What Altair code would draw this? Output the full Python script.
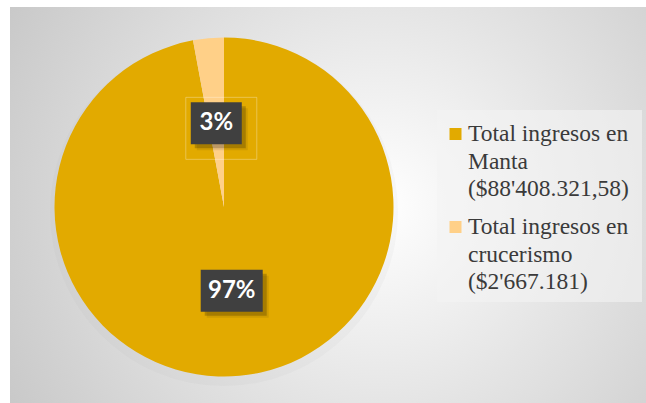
import altair as alt
import pandas as pd
import numpy as np

# ---- data ----
categories = ["Total ingresos en Manta ($88'408.321,58)",
              "Total ingresos en crucerismo ($2'667.181)"]
legend_lines = [["Total ingresos en", "Manta", "($88'408.321,58)"],
                ["Total ingresos en", "crucerismo", "($2'667.181)"]]
values = [88408321.58, 2667181.0]
colors = ["#E2AA00", "#FFD088"]

# ---- layout constants ----
CX, CY, R = 224, 207, 169.5
LABEL_R = 84

df = pd.DataFrame({"cat": categories, "value": values, "order": [0, 1]})
df["pct"] = df["value"] / df["value"].sum()
df["label"] = (df["pct"] * 100).round().astype(int).astype(str) + "%"
mid = (df["pct"].cumsum() - df["pct"] / 2) * 2 * np.pi
df["lx"] = CX + LABEL_R * np.sin(mid)
df["ly"] = CY - LABEL_R * np.cos(mid)
bw = 29 + 11 * df["label"].str.len()
df["bx1"] = df["lx"] - bw / 2
df["bx2"] = df["lx"] + bw / 2
df["by1"] = df["ly"] - 21
df["by2"] = df["ly"] + 21

leg = pd.DataFrame({"cat": categories, "idx": [0, 1]})
leg["sy"] = 134 + 93 * leg["idx"]

rows = []
for i, lines in enumerate(legend_lines):
    for j, t in enumerate(lines):
        rows.append({"t": t, "ty": 141 + 93 * i + 27.5 * j})
leg_lines = pd.DataFrame(rows)

color_scale = alt.Scale(domain=categories, range=colors)
one = pd.DataFrame({"a": [0]})

bg = alt.Chart(one).mark_rect(
    color=alt.Gradient(
        gradient="radial",
        stops=[alt.GradientStop(color="#ffffff", offset=0),
               alt.GradientStop(color="#e4e4e4", offset=0.45),
               alt.GradientStop(color="#c4c4c4", offset=1)],
        x1=0.58, y1=0.5, r1=0, x2=0.58, y2=0.5, r2=0.72),
).encode(x=alt.value(10), x2=alt.value(646), y=alt.value(7), y2=alt.value(403))

shadow = alt.Chart(one).mark_point(
    shape="circle", filled=True, color="#9a9a9a", opacity=0.06, size=(2 * 174) ** 2
).encode(x=alt.value(CX), y=alt.value(CY + 5))

pie = alt.Chart(df).mark_arc(radius=R, stroke=None).encode(
    theta=alt.Theta("value:Q", stack=True),
    order=alt.Order("order:Q"),
    color=alt.Color("cat:N", scale=color_scale, legend=None),
    x=alt.value(CX), y=alt.value(CY),
)

outline = alt.Chart(df).transform_filter("datum.order == 1").transform_calculate(
    ox1="datum.bx1 - 5", ox2="datum.bx2 + 15", oy1="datum.by1 - 5", oy2="datum.by2 + 15"
).mark_rect(fill=None, stroke="#ffffff", strokeOpacity=0.3, strokeWidth=1).encode(
    x=alt.X("ox1:Q", scale=None), x2="ox2:Q",
    y=alt.Y("oy1:Q", scale=None), y2="oy2:Q",
)

box_sh1 = alt.Chart(df).transform_calculate(
    sx1="datum.bx1 + 4", sx2="datum.bx2 + 4", sy1="datum.by1 + 4", sy2="datum.by2 + 4"
).mark_rect(color="#000000", opacity=0.2).encode(
    x=alt.X("sx1:Q", scale=None), x2="sx2:Q",
    y=alt.Y("sy1:Q", scale=None), y2="sy2:Q",
)
box_sh2 = alt.Chart(df).transform_calculate(
    sx1="datum.bx1 + 6", sx2="datum.bx2 + 6", sy1="datum.by1 + 6", sy2="datum.by2 + 6"
).mark_rect(color="#000000", opacity=0.08).encode(
    x=alt.X("sx1:Q", scale=None), x2="sx2:Q",
    y=alt.Y("sy1:Q", scale=None), y2="sy2:Q",
)

box = alt.Chart(df).mark_rect(color="#404040").encode(
    x=alt.X("bx1:Q", scale=None), x2="bx2:Q",
    y=alt.Y("by1:Q", scale=None), y2="by2:Q",
)

lbl = alt.Chart(df).mark_text(
    font="Lato", fontWeight="bold", fontSize=24, color="#ffffff",
    align="center", baseline="middle"
).encode(
    x=alt.X("lx:Q", scale=None), y=alt.Y("ly:Q", scale=None), text="label:N"
)

leg_box = alt.Chart(one).mark_rect(color="#f4f4f4", opacity=0.6).encode(
    x=alt.value(437), x2=alt.value(642), y=alt.value(110), y2=alt.value(302)
)

leg_sw = alt.Chart(leg).mark_square(size=144, opacity=1).encode(
    x=alt.value(455.5), y=alt.Y("sy:Q", scale=None),
    color=alt.Color("cat:N", scale=color_scale, legend=None),
)

leg_txt = alt.Chart(leg_lines).mark_text(
    font="Liberation Serif", fontSize=23.5, color="#3a3a3a",
    align="left", baseline="alphabetic"
).encode(
    x=alt.value(468), y=alt.Y("ty:Q", scale=None), text="t:N"
)

chart = alt.layer(
    bg, shadow, pie, outline, box_sh2, box_sh1, box, lbl, leg_box, leg_sw, leg_txt
).properties(
    width=646, height=403, padding=0, autosize="none", background="white"
).configure_view(strokeWidth=0)

chart.save("out.html", embed_options={"renderer": "svg", "actions": False})
